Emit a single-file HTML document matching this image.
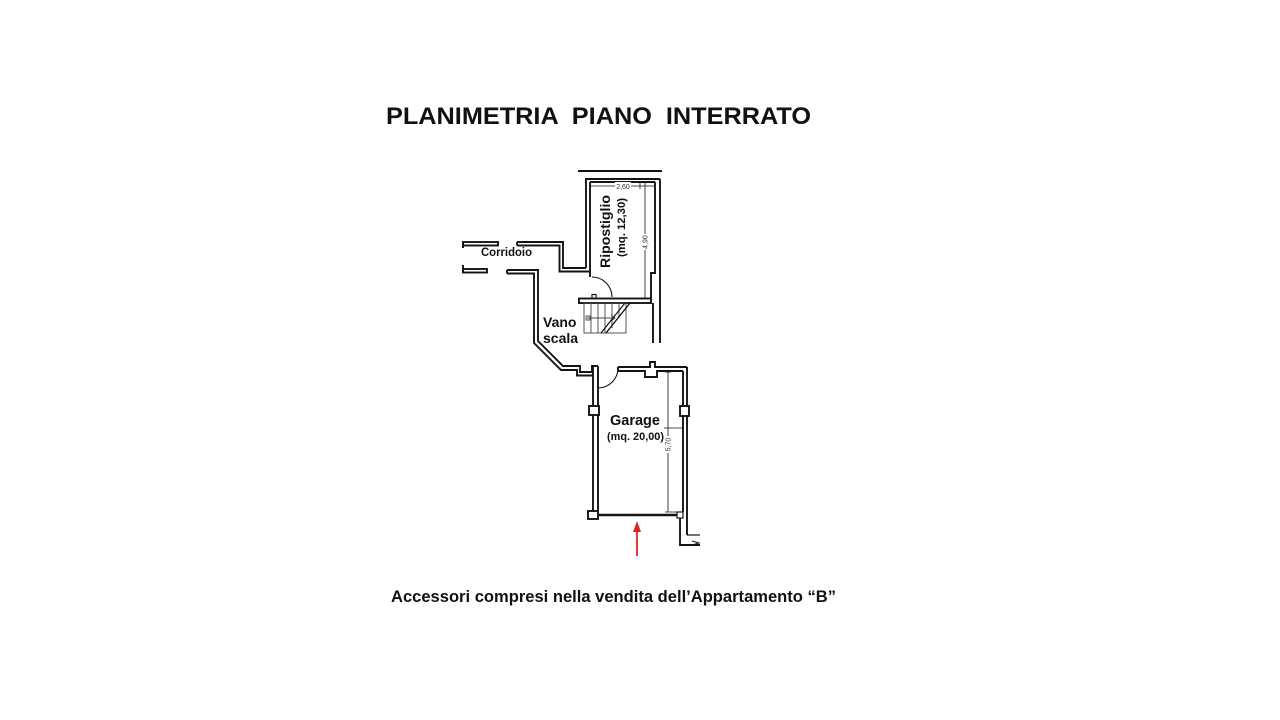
<!DOCTYPE html>
<html>
<head>
<meta charset="utf-8">
<style>
html,body{margin:0;padding:0;background:#fff;}
body{width:1280px;height:720px;overflow:hidden;}
svg{display:block;}
text{font-family:"Liberation Sans",Arial,sans-serif;}
</style>
</head>
<body>
<svg width="1280" height="720" viewBox="0 0 1280 720" xmlns="http://www.w3.org/2000/svg">
<rect width="1280" height="720" fill="#fff"/>

<!-- Title -->
<text x="386" y="124" font-size="24" font-weight="bold" fill="#111" textLength="425" lengthAdjust="spacingAndGlyphs" xml:space="preserve">PLANIMETRIA  PIANO  INTERRATO</text>

<g fill="none" stroke="#141414" stroke-width="1.9" stroke-linejoin="miter">
  <!-- top boundary line -->
  <line x1="578" y1="171" x2="662" y2="171"/>

  <!-- Ripostiglio walls -->
  <line x1="586" y1="178" x2="586" y2="268"/>
  <line x1="590" y1="182" x2="590" y2="277"/>
  <line x1="586" y1="179" x2="660" y2="179"/>
  <line x1="590" y1="182" x2="655" y2="182"/>
  <line x1="660" y1="179" x2="660" y2="343"/>
  <polyline points="655,182 655,273 651,273 651,298"/>
  <line x1="653" y1="303" x2="653" y2="343"/>

  <!-- dimension 2,60 -->
  <line x1="590" y1="186" x2="655" y2="186" stroke-width="0.8"/>
  <line x1="640" y1="183" x2="640" y2="189" stroke-width="0.8"/>
  <!-- dimension 4,90 -->
  <line x1="645" y1="182" x2="645" y2="298" stroke-width="0.8"/>

  <!-- corridor left pieces -->
  <rect x="463" y="242" width="35" height="3.5" fill="#fff"/>
  <line x1="463" y1="242" x2="463" y2="248"/>
  <rect x="463" y="269" width="24" height="3.5" fill="#fff"/>
  <line x1="463" y1="265" x2="463" y2="272"/>

  <!-- corridor upper right wall to ripostiglio -->
  <polyline points="517,242 563,242 563,268 586,268"/>
  <polyline points="517,245.5 559.5,245.5 559.5,271.5 590,271.5"/>
  <line x1="517" y1="242" x2="517" y2="245.5"/>

  <!-- corridor lower right wall, vano scala, diagonal -->
  <polyline points="507,270 538,270 538,341 563,366 580,366 580,372 592,372 592,366 598,366"/>
  <polyline points="507,273.5 534,273.5 534,343 561,370 577,370 577,375.5 593,375.5"/>
  <line x1="507" y1="270" x2="507" y2="273.5"/>

  <!-- door ripostiglio -->
  <path d="M592,277 A20,20 0 0 1 612,297" stroke-width="1.1"/>
  <rect x="592" y="294.5" width="4" height="4" fill="#fff" stroke-width="1.2"/>

  <!-- stair top wall -->
  <rect x="579" y="298.5" width="72" height="4.5" fill="#fff"/>

  <!-- stairs -->
  <g stroke-width="0.9" stroke="#444">
    <rect x="584" y="303" width="42" height="30"/>
    <line x1="591" y1="303" x2="591" y2="333"/>
    <line x1="598" y1="303" x2="598" y2="333"/>
    <line x1="605" y1="303" x2="605" y2="333"/>
    <line x1="612" y1="303" x2="612" y2="328"/>
    <line x1="619" y1="303" x2="619" y2="318"/>
    <line x1="587" y1="318" x2="615" y2="318"/>
    <polyline points="611,315 615,318 611,321"/>
    <rect x="586" y="316" width="4" height="4"/>
  </g>
  <line x1="630" y1="303" x2="606" y2="333" stroke-width="1.4"/>
  <line x1="625" y1="303" x2="601" y2="333" stroke-width="1.2"/>

  <!-- garage left wall -->
  <line x1="593" y1="366" x2="593" y2="511"/>
  <line x1="598" y1="366" x2="598" y2="511"/>
  <rect x="589" y="406" width="10" height="9" fill="#fff"/>
  <rect x="588" y="511" width="10" height="8" fill="#fff"/>

  <!-- garage door -->
  <path d="M598,388 A20,20 0 0 0 618,368" stroke-width="1.1"/>

  <!-- garage top wall -->
  <polyline points="618,367 650,367 650,362 655,362 655,367 687,367"/>
  <polyline points="618,371 645,371 645,377 657,377 657,371 683,371"/>
  <line x1="618" y1="367" x2="618" y2="371"/>

  <!-- garage right wall -->
  <line x1="687" y1="367" x2="687" y2="535"/>
  <line x1="683" y1="371" x2="683" y2="512"/>
  <rect x="680" y="406" width="9" height="10" fill="#fff"/>

  <!-- garage bottom -->
  <line x1="598" y1="515" x2="677" y2="515" stroke-width="2.4"/>
  <rect x="677" y="512" width="6" height="6" fill="#fff" stroke-width="1.2"/>
  <polyline points="680,518 680,545 700,545"/>
  <polyline points="687,535 700,535" stroke-width="1.2"/>
  <polyline points="692,541 699,543 692,545" stroke-width="1"/>

  <!-- garage dimension 5,70 -->
  <line x1="668" y1="372" x2="668" y2="512" stroke-width="0.8"/>
  <line x1="664" y1="428" x2="683" y2="428" stroke-width="0.8"/>
  <line x1="665" y1="512" x2="683" y2="512" stroke-width="0.8"/>
  <line x1="665" y1="372" x2="671" y2="372" stroke-width="0.8"/>
</g>

<!-- dimension labels -->
<rect x="615" y="182" width="16" height="8" fill="#fff"/>
<text x="623" y="189" font-size="7" text-anchor="middle" fill="#333">2,60</text>
<rect x="641" y="234" width="8" height="16" fill="#fff"/>
<text x="0" y="0" font-size="7" text-anchor="middle" fill="#333" transform="translate(647.5,242) rotate(-90)">4,90</text>
<rect x="664" y="436" width="8" height="17" fill="#fff"/>
<text x="0" y="0" font-size="7" text-anchor="middle" fill="#333" transform="translate(670.5,444.5) rotate(-90)">5,70</text>

<!-- room labels -->
<text x="481" y="256" font-size="11.5" font-weight="bold" fill="#111" textLength="51" lengthAdjust="spacingAndGlyphs">Corridoio</text>
<text x="0" y="0" font-size="14" font-weight="bold" fill="#111" transform="translate(610,268) rotate(-90)" textLength="73" lengthAdjust="spacingAndGlyphs">Ripostiglio</text>
<text x="0" y="0" font-size="11" font-weight="bold" fill="#111" transform="translate(625,257) rotate(-90)" textLength="59" lengthAdjust="spacingAndGlyphs">(mq. 12,30)</text>
<text x="543" y="327" font-size="14" font-weight="bold" fill="#111">Vano</text>
<text x="543" y="343" font-size="14" font-weight="bold" fill="#111">scala</text>
<text x="610" y="425" font-size="14.5" font-weight="bold" fill="#111" textLength="50" lengthAdjust="spacingAndGlyphs">Garage</text>
<text x="607" y="440" font-size="11" font-weight="bold" fill="#111" textLength="57" lengthAdjust="spacingAndGlyphs">(mq. 20,00)</text>

<!-- red arrow -->
<line x1="637" y1="556" x2="637" y2="530" stroke="#e02424" stroke-width="1.8"/>
<polygon points="637,521 633,532 641,532" fill="#e02424"/>

<!-- caption -->
<text x="391" y="602" font-size="16.5" font-weight="bold" fill="#111" textLength="445" lengthAdjust="spacingAndGlyphs">Accessori compresi nella vendita dell’Appartamento “B”</text>
</svg>
</body>
</html>
